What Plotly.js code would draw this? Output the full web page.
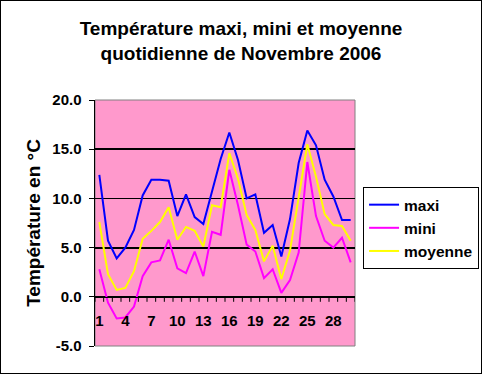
<!DOCTYPE html>
<html>
<head>
<meta charset="utf-8">
<script src="https://cdn.plot.ly/plotly-3.0.1.min.js"></script>
<style>
html,body{margin:0;padding:0;background:#fff;}
#wrap{width:482px;height:374px;border:1px solid #000;box-sizing:border-box;}
#chart{width:480px;height:372px;}
</style>
</head>
<body>
<div id="wrap"><div id="chart"></div></div>
<script>
const days = [1,2,3,4,5,6,7,8,9,10,11,12,13,14,15,16,17,18,19,20,21,22,23,24,25,26,27,28,29,30];
const maxi = [12.4,5.7,3.9,5.0,6.8,10.3,11.9,11.9,11.8,8.2,10.4,8.1,7.4,10.6,14.0,16.7,13.9,10.0,10.4,6.5,7.3,4.1,7.9,13.6,16.9,15.4,11.9,10.2,7.8,7.8];
const mini = [2.8,-0.6,-2.2,-2.1,-1.0,2.1,3.5,3.7,5.8,2.9,2.4,4.6,2.1,6.6,6.3,12.9,9.3,5.3,4.6,1.9,2.8,0.4,1.7,4.5,13.7,8.2,5.7,5.0,6.0,3.5];
const moyenne = [7.6,2.3,0.7,0.9,2.6,5.9,6.7,7.6,9.1,5.8,7.1,6.7,5.1,9.3,9.1,14.6,12.0,8.3,6.8,3.6,5.2,1.8,4.7,10.2,15.5,12.2,8.4,7.3,7.2,5.7];
const xTickVals = [1,4,7,10,13,16,19,22,25,28];
const xTickText = ['1','4','7','10','13','16','19','22','25','28'];
const yTickVals = [-5,0,5,10,15,20];
const yTickText = ['-5.0','0.0','5.0','10.0','15.0','20.0'];
const seriesNames = ['maxi','mini','moyenne'];
const seriesColors = ['#0000FF','#FF00FF','#FFFF00'];
const seriesValues = [maxi, mini, moyenne];

const W = 480, H = 372, M = {l:94, r:126, t:99, b:27};
const yMin = yTickVals[0], yMax = yTickVals[yTickVals.length-1];
const crossValue = 0;                                   // category axis crosses at 0
const crossFrac = (crossValue - yMin) / (yMax - yMin);
const tickLen = 5;

// small tick marks under the crossing axis, one on each category boundary
const boundaries = [0.5].concat(days.map(d => d + 0.5));
const tickShapes = boundaries.map(b => ({
  type:'line', xref:'x', yref:'y', ysizemode:'pixel', yanchor:crossValue,
  x0:b, x1:b, y0:0, y1:-tickLen,
  line:{color:'#000', width:1}, layer:'above'
}));

const F = 'Liberation Sans, Arial, sans-serif';
const traces = seriesValues.map((v,i)=>({
  x: days, y: v, type:'scatter', mode:'lines', name: seriesNames[i],
  line:{color: seriesColors[i], width:2}
}));

const layout = {
  width:W, height:H,
  margin:Object.assign({autoexpand:false}, M),
  paper_bgcolor:'#FFFFFF',
  plot_bgcolor:'#FF99CC',
  showlegend:true,
  title:{text:'<b>Température maxi, mini et moyenne<br>quotidienne de Novembre 2006</b>',
    font:{family:F, size:19, color:'#000'}, x:0.5, xanchor:'center', y:0.908, yanchor:'top'},
  xaxis:{
    range:[0.5,30.5], anchor:'free', position:crossFrac,
    showgrid:false, zeroline:false, showline:true, linecolor:'#000', linewidth:1.5,
    tickmode:'array', tickvals:xTickVals, ticktext:xTickText,
    ticks:'', ticklabelstandoff:10,
    tickfont:{family:F, size:15, color:'#000', weight:'bold'}
  },
  yaxis:{
    range:[yMin,yMax], tickmode:'array', tickvals:yTickVals, ticktext:yTickText,
    showgrid:true, gridcolor:'#000', gridwidth:1.8, zeroline:false,
    showline:true, linecolor:'#000', linewidth:1.5,
    ticks:'outside', ticklen:5, tickcolor:'#000', tickwidth:1,
    ticklabelstandoff:4,
    tickfont:{family:F, size:15, color:'#000', weight:'bold'},
    title:{text:'<b>Température en °C</b>', font:{family:F, size:19, color:'#000'}, standoff:6}
  },
  legend:{
    x:1.031, xanchor:'left', y:0.646, yanchor:'top',
    bgcolor:'#FFFFFF', bordercolor:'#000', borderwidth:1,
    font:{family:F, size:15.5, color:'#000', weight:'bold'}
  },
  shapes:[{type:'rect', xref:'paper', yref:'paper', x0:0, x1:1, y0:0, y1:1,
    line:{color:'#808080', width:1}, layer:'below'}].concat(tickShapes)
};
Plotly.newPlot('chart', traces, layout, {staticPlot:true});
</script>
</body>
</html>
